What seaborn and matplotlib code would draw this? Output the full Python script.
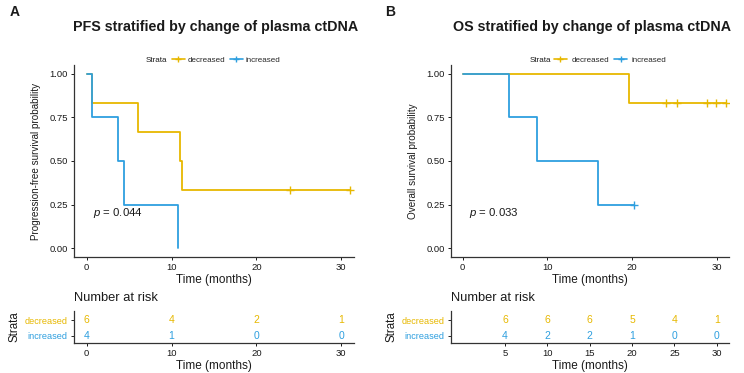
import matplotlib.pyplot as plt
from matplotlib.lines import Line2D
import numpy as np
import pandas as pd
import seaborn as sns

sns.set_theme(style="ticks")
plt.rcParams['font.family'] = ['Liberation Sans', 'DejaVu Sans']
plt.rcParams['mathtext.fontset'] = 'custom'
plt.rcParams['mathtext.it'] = 'Liberation Sans:italic'
plt.rcParams['mathtext.rm'] = 'Liberation Sans'

strata = ["decreased", "increased"]
colors = ["#E7B800", "#2E9FDF"]

# follow-up (months) and event flags
pfs_dec_time = [0.66, 6.0, 11.0, 11.17, 24.0, 31.0]
pfs_dec_event = [1, 1, 1, 1, 0, 0]
pfs_inc_time = [0.66, 3.73, 4.39, 10.7]
pfs_inc_event = [1, 1, 1, 1]
os_dec_time = [19.7, 24.05, 25.3, 28.9, 29.9, 31.1]
os_dec_event = [1, 0, 0, 0, 0, 0]
os_inc_time = [5.48, 8.75, 15.97, 20.2]
os_inc_event = [1, 1, 1, 0]

pfs_risk_times = [0, 10, 20, 30]
os_risk_times = [5, 10, 15, 20, 25, 30]
pvalues = ["0.044", "0.033"]
titles = ["PFS stratified by change of plasma ctDNA", "OS stratified by change of plasma ctDNA"]
ylabels = ["Progression-free survival probability", "Overall survival probability"]
letters = ["A", "B"]

TXT = "#1a1a1a"


def km_curve(times, events):
    """ Kaplan-Meier steps and censor marks """
    times = np.asarray(times, float)
    events = np.asarray(events)
    xs, ys = [0.0], [1.0]
    cx, cy = [], []
    s = 1.0
    for t in np.unique(times):
        n = (times >= t).sum()
        d = events[times == t].sum()
        if d > 0:
            s *= 1 - d / n
            xs.append(t)
            ys.append(s)
        if (events[times == t] == 0).any():
            cx.append(t)
            cy.append(s)
    if xs[-1] < times.max():
        xs.append(times.max())
        ys.append(s)
    return pd.DataFrame({"time": xs, "surv": ys}), pd.DataFrame({"time": cx, "surv": cy})


def at_risk(times, t):
    return int((np.asarray(times) >= t).sum())


fig = plt.figure(figsize=(7.44, 3.73), dpi=100)
W, H = 744, 373


def fig_ax(x0, y0, x1, y1):
    return fig.add_axes([x0 / W, 1 - y1 / H, (x1 - x0) / W, (y1 - y0) / H])


panels = [
    dict(main=(74, 65, 354, 257), table=(74, 311, 354, 343), xlim=(-1.5, 31.5),
         groups=[(pfs_dec_time, pfs_dec_event), (pfs_inc_time, pfs_inc_event)],
         risk=pfs_risk_times, strata_x=146, leg_x=172, tpad=0.3, letter_x=15),
    dict(main=(451, 65, 729, 257), table=(451, 311, 729, 343), xlim=(-1.37, 31.45),
         groups=[(os_dec_time, os_dec_event), (os_inc_time, os_inc_event)],
         risk=os_risk_times, strata_x=530, leg_x=554, tpad=0.6, letter_x=390),
]

for i, p in enumerate(panels):
    ax = fig_ax(*p["main"])
    for (tm, ev), c in zip(p["groups"], colors):
        steps, cens = km_curve(tm, ev)
        sns.lineplot(data=steps, x="time", y="surv", ax=ax, color=c, lw=1.3,
                     drawstyle="steps-post", estimator=None, sort=False)
        if len(cens):
            sns.scatterplot(data=cens, x="time", y="surv", ax=ax, color=c, marker="+",
                            s=26, linewidth=1.0, zorder=3)
    ax.set_xlim(*p["xlim"])
    ax.set_ylim(-0.05, 1.05)
    ax.set_xticks([0, 10, 20, 30])
    ax.set_yticks([0, 0.25, 0.5, 0.75, 1.0])
    ax.set_yticklabels(["0.00", "0.25", "0.50", "0.75", "1.00"])
    ax.set_xlabel("Time (months)", fontsize=8.5, color=TXT, labelpad=1)
    ax.set_ylabel(ylabels[i], fontsize=7.1, color=TXT, labelpad=6)
    ax.tick_params(labelsize=6.8, colors=TXT, length=2.5, width=0.7, pad=2)
    sns.despine(ax=ax)
    for sp in ["left", "bottom"]:
        ax.spines[sp].set_linewidth(0.9)
        ax.spines[sp].set_color("#333333")
    ax.text(0.7, 0.2, "$p$ = " + pvalues[i], fontsize=8.2, color=TXT, va="center")
    cx = (p["main"][0] + p["main"][2]) / 2 + 2
    fig.text(cx / W, 1 - 27 / H, titles[i], ha="center", va="center",
             fontsize=10.3, fontweight="bold", color=TXT)
    fig.text(p["letter_x"] / W, 1 - 12 / H, letters[i], ha="center", va="center",
             fontsize=10, fontweight="bold", color=TXT)
    # legend
    fig.text(p["strata_x"] / W, 1 - 60 / H, "Strata", fontsize=5.8, va="center", color=TXT)
    handles = [Line2D([], [], color=c, lw=1.2, marker="+", markersize=4.5) for c in colors]
    fig.legend(handles, strata, loc="center left", bbox_to_anchor=(p["leg_x"] / W, 1 - 60 / H),
               ncol=2, frameon=False, fontsize=5.8, handlelength=1.6, handletextpad=p["tpad"],
               columnspacing=0.6, borderpad=0, borderaxespad=0)

    # risk table
    tx = fig_ax(*p["table"])
    tx.set_xlim(*p["xlim"])
    tx.set_ylim(-0.45, 1.6)
    for row, ((tm, ev), c) in zip([1, 0], zip(p["groups"], colors)):
        for t in p["risk"]:
            tx.text(t, row, str(at_risk(tm, t)), ha="center", va="center", fontsize=7.5, color=c)
    tx.set_yticks([1, 0])
    tx.set_yticklabels(strata)
    for lab, c in zip(tx.get_yticklabels(), colors):
        lab.set_color(c)
    tx.set_xticks(p["risk"])
    tx.set_xlabel("Time (months)", fontsize=8.5, color=TXT, labelpad=1)
    tx.set_ylabel("Strata", fontsize=8.3, color=TXT, labelpad=3)
    tx.tick_params(axis="x", labelsize=6.8, colors=TXT, length=2.5, width=0.7, pad=2)
    tx.tick_params(axis="y", labelsize=6.6, length=2.5, width=0.7, pad=2)
    sns.despine(ax=tx)
    for sp in ["left", "bottom"]:
        tx.spines[sp].set_linewidth(0.9)
        tx.spines[sp].set_color("#333333")
    fig.text(p["table"][0] / W, 1 - 298 / H, "Number at risk", fontsize=9.3, va="center", color=TXT)

fig.savefig("out.png", dpi=100)
